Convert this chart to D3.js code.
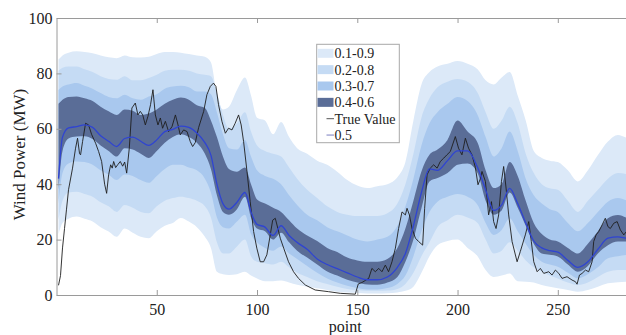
<!DOCTYPE html>
<html><head><meta charset="utf-8">
<script src="https://cdn.jsdelivr.net/npm/d3@7"></script>
<style>body{margin:0;background:#fff}svg{display:block}</style>
</head><body>
<svg id="c" width="626" height="335"></svg>
<script>
const xs = [1,3,6,10,14,18,22,26,30,34,38,42,46,50,54,58,62,66,70,74,77,80,83,86,90,94,97,100,104,108,112,116,120,125,130,135,140,145,150,155,160,165,170,174,178,182,186,190,195,200,205,210,214,218,222,226,230,234,238,242,246,250,255,260,265,270,275,280,285,288];
const q50 = [42,57,60.3,60.8,61.4,60.5,57.5,55.5,53.6,56.5, 57,55.5,54,56,59,59.8,61,60.5,58.5,55, 50.5,40,33,31,33.5,37,30,25.5,24.5,21.5, 25,21.5,19,16.5,13,11,9.5,8,6.5,5.5, 5.5,6.5,10,15,25,37,45.5,45,48.5,52, 52,46,38,30.5,32.5,38.5,33,26,19.5,17, 16,15.5,12.5,10,12,16.5,20.5,21,20.5,20.5];
const q60 = [69,70.5,71.5,71.7,71,70,68,66.3,65,67, 66.5,65,65.5,67,69,70.5,71.3,70.5,68.5,67.5, 63,57,50,45.5,44.5,46,40,34.5,33,31.5, 30,27,24,21.5,19.5,17,15.5,13.5,12.5,12, 12,13,17,24,34,44.6,50.6,52.5,56,63, 59,55,45,38.6,40,48,43,34,26,22, 20,19.3,17,15,18.5,23,27.7,28.9,27.7,27];
const q40 = [38,52,56.5,57.2,57.3,56.3,54,52,50,53, 52.5,51,49.5,52,55,57,58,57,55,51, 45.5,36,30,29,31,35.5,28,24,23,20, 22.5,19,16,13.5,11,8.5,7,5.5,4.5,3.8, 3.7,4.5,6.5,12,20,31.3,41,42.2,44,47, 47.5,44,34,29,30.5,37,31.5,25,18.5,15, 14.5,13.9,11,8.4,10.5,15,18,19.3,19.3,19];
const q70 = [74,75.3,76,76.5,75.5,74.5,72.9,71.5,71,72.3, 71,70.5,71.7,72.5,74.5,75.3,75.5,75,73.5,73.5, 72.5,66,58,53,52.5,56,50,45,43,42, 40,36,32.5,29,27,24.5,23,21.5,20,19.3, 20,21,25,32,42,54,62,66,69,71.5, 70,65,57,50,53,59,52,42,36,33, 31,30,26,23,26,30,33.7,35,34,33.5];
const q30 = [33,44,47.5,48.2,48,47,45,43.4,41.5,43.5, 43,41.5,40.5,43,45.5,47,47,46,45,42, 37,28,24.5,24,26.5,29,22,19,17,16, 17.5,15,13,10.5,8,6,4.5,3.3,2.5,2, 2,2.5,4,7,14,23,30,33.7,35.5,36.5, 35.5,32.5,26,21.7,23.5,27.7,23,18.5,14.5,12, 11,10.2,8,6,7.5,10,13.3,14,14.5,14.5];
const q80 = [81,82,82.5,82.5,81.5,80.5,79,78,77.7,79, 77.5,77.5,78.3,79.5,81,81.3,81.3,81,80,79.5, 79,73,65,60,62,66,59,54,52,51, 50,46,42,38,35,32,30,29,28.5,28.5, 28.5,29.5,33,40,51,64,71,75,77,78, 77,73,66,60,63,68,62,51,44,40, 38.5,38,34,30,34,38,42,44,43.5,43];
const q20 = [27,34,37,37.3,36.5,35.5,33.5,32,30,32.5, 31.5,30,29.5,32,34,35,35.5,35,34,32, 28,19,15,15,17.5,20,14,12,11.5,11, 12,10,8,6.5,5,4,3,2.2,1.8,1.5, 1.5,1.6,2.2,4,8,14,19,24.5,27,29, 28,26,20,15,16,19,16,12.5,10,8.4, 7,6,4.5,3.6,4.5,6.5,8.4,9,9,9];
const q90 = [85,86.5,87.5,88,87.7,87.3,86.5,85.8,85.5,86.5, 85.8,85.7,86,87,87.7,87.7,87.5,87,86.5,86, 84,72,67,68,74,78.5,72,64,63,58, 62.5,57,53,51,48.5,47,44.5,41.5,39.5,38.6, 39.3,40,42.5,48,63,76,80.5,82.5,83.5,84.5, 83.5,81.5,77.5,76,78.5,80.5,72,63,52,49.5, 48.5,48,45,41,45,50.5,55.4,57.8,56.6,56];
const q10 = [22,26,27.5,28.3,27.5,26.5,24.5,22.9,21,24, 22.5,21,20.5,23,25,26,27.8,26.5,24.5,21, 17,8.4,7.5,7.2,7.5,8.4,7,6,5,5, 5.2,4.5,3.7,3,2.4,1.8,1.2,0.9,0.7,0.5, 0.5,0.6,0.9,1.5,3,8,14,18,19.5,20, 17,14,9,6.5,7,7.8,5,4.8,4.5,3.6, 3,2.4,1.8,1.2,1.8,3,4.2,4.6,4.8,4.8];

const trueX = [1,2,3,4,5,6,8,9.5,10.5,11.5,12,13,14.5,16,17.5,19.5,21,22.5,24,25,26,27,27.8,28.5,29.5,30.5,31.8,33,34,35,36.3,37.6,39.3,40.6,41.8,43,44.3,45.6,46.9,48.1,49.3,50.6,51.8,52.9,54.3,55.9,57.6,59.3,60.6,61.7,63.4,65.1,66.7,67.9,69.2,70.9,73.4,75,76.7,78.3,79.5,80.8,82.5,84.2,85.8,87.5,89.1,90.8,92.1,93.3,95,96.6,98.3,99.9,101.6,103.3,104.9,106.6,107.8,109.1,110.4,111.6,113.3,115.7,118.2,120.7,124.1,129,135.7,141.5,149,150.5,152.3,155.7,157.3,159,160.7,162.3,164,165.6,167.3,169,170.6,172.3,174,174.8,176,177.3,179,180.6,182.6,183.6,184.8,186.4,188.1,189.8,191.4,193.1,194.7,196.4,198.9,200.5,202.2,203.9,205.5,207.2,208.9,210.2,211.4,212.2,213.9,215.5,216.9,218,219.2,220.5,221.9,223,224.2,225.5,227.2,229.7,231.3,233.8,235.5,236.8,238,239.7,241.3,243,245.5,247.1,248.8,250.5,252.1,254.6,257.1,258.8,259.6,260.8,262.1,263.8,265.4,267.1,267.9,269.1,270.4,272.1,273.7,275,276.2,277.9,279.6,281.2,282.9,284.2,286,288];
const trueY = [3.5,7,17,24,31,38,45.8,53,56.6,51,50.6,55.4,62,61.4,58,54.8,51.8,48.2,40,36.7,43.4,47,45.8,48.2,46,47,48.2,46.5,48,44,53,67.5,69.3,65,66.3,65,61.4,64.5,68.7,74.1,65,61.4,63.9,60.2,62.7,59,60.8,65,61.4,57.8,59.6,59,55.4,53.6,55,60.5,66.3,72.3,75.3,76.5,75.3,68.7,62.7,58.4,60.2,59.6,62,65,61.4,55.4,44.6,33.7,22.9,16.9,12,12,14.5,21.7,27,27.7,24,20.5,16.9,12,8.4,6,3.6,1.8,1.2,0.6,0.3,4,4.5,6,9.6,8.4,9.6,8.4,10.8,8.4,12,16.9,24,30,28.9,31.3,28.9,24,20.5,19.3,18,31.3,43.4,45.8,47,45.8,48.2,49.4,50.6,51.8,57.2,53,50.6,56.6,53,50.6,46,39.8,42,44.6,41,28.9,33.7,26.5,24,28.9,41,46.4,38.6,28.9,19.3,12,15.7,21.7,26.5,19.3,12,8.4,9.6,7.8,8.4,7.2,9,7.8,6,6.6,5.4,4.8,3.9,7.2,7.8,9,8.4,12,19.3,21.7,22.9,25.3,27.7,24.7,24,25.9,26.5,23.5,21.7,22.9,22,21];

const xTicks = [50,100,150,200,250];
const yTicks = [0,20,40,60,80,100];
const bandLabels = ["0.1-0.9","0.2-0.8","0.3-0.7","0.4-0.6"];
const bandColors = ["#dce9f8","#c5dbf4","#a9c8ee","#5a6d97"];
const lineLabels = ["True Value","0.5"];
const lineColors = ["#1e1e1e","#2f44d2"];

const svg = d3.select("#c");
const x = d3.scaleLinear().domain([0,288]).range([56.5,634]);
const y = d3.scaleLinear().domain([0,100]).range([295,18]);
const font = "'Liberation Serif', serif";

svg.append("defs").append("clipPath").attr("id","pc")
  .append("rect").attr("x",x(0)).attr("y",y(100)).attr("width",x(288)-x(0)).attr("height",y(0)-y(100));

const g = svg.append("g").attr("clip-path","url(#pc)");
const bands = [[q10,q90],[q20,q80],[q30,q70],[q40,q60]];
bands.forEach((b,k)=>{
  const area = d3.area().curve(d3.curveMonotoneX)
    .x((d,i)=>x(xs[i])).y0((d,i)=>y(b[0][i])).y1((d,i)=>y(b[1][i]));
  g.append("path").datum(xs).attr("d",area).attr("fill",bandColors[k]);
});
const tl = d3.line().x((d,i)=>x(trueX[i])).y((d,i)=>y(trueY[i]));
g.append("path").datum(trueX).attr("d",tl).attr("fill","none").attr("stroke",lineColors[0]).attr("stroke-width",0.9);
const ml = d3.line().curve(d3.curveMonotoneX).x((d,i)=>x(xs[i])).y((d,i)=>y(q50[i]));
g.append("path").datum(xs).attr("d",ml).attr("fill","none").attr("stroke",lineColors[1]).attr("stroke-width",1.3);

const axColor = "#9a9a9a";
function style(sel){
  sel.selectAll(".domain").attr("stroke",axColor);
  sel.selectAll(".tick line").attr("stroke",axColor);
  sel.selectAll("text").attr("fill","#222").style("font-family",font).style("font-size","16px");
}
svg.append("g").attr("transform",`translate(0,${y(0)})`)
  .call(d3.axisBottom(x).tickValues(xTicks).tickSize(-5).tickSizeOuter(0).tickPadding(9)).call(style);
svg.append("g").attr("transform",`translate(0,${y(100)})`)
  .call(d3.axisTop(x).tickValues(xTicks).tickSize(-5).tickSizeOuter(0).tickFormat("")).call(style);
svg.append("g").attr("transform",`translate(${x(0)},0)`)
  .call(d3.axisLeft(y).tickValues(yTicks).tickSize(-5).tickSizeOuter(0).tickPadding(4)).call(style);

svg.append("text").attr("x",(x(0)+x(288))/2).attr("y",331.5).attr("text-anchor","middle")
  .style("font-family",font).style("font-size","16px").attr("fill","#222").text("point");
svg.append("text").attr("transform",`translate(25,${(y(0)+y(100))/2-2}) rotate(-90)`).attr("text-anchor","middle")
  .style("font-family",font).style("font-size","17px").attr("fill","#222").text("Wind Power (MW)");

const lg = svg.append("g");
lg.append("rect").attr("x",316.7).attr("y",44.3).attr("width",82.6).attr("height",98.4)
  .attr("fill","#fff").attr("stroke","#a8a8a8").attr("stroke-width",1);
const rowH = 16.35, row0 = 53.3;
bandLabels.forEach((t,i)=>{
  const cy = row0 + i*rowH;
  lg.append("rect").attr("x",317.5).attr("y",cy-4.5).attr("width",16).attr("height",9).attr("fill",bandColors[i]);
  lg.append("text").attr("x",334.5).attr("y",cy).attr("dy","0.35em").style("font-family",font).style("font-size","14px").attr("fill","#222").text(t);
});
lineLabels.forEach((t,j)=>{
  const cy = row0 + (4+j)*rowH;
  lg.append("line").attr("x1",326.5).attr("x2",334).attr("y1",cy).attr("y2",cy).attr("stroke",j===0?"#555":"#7a7fc0").attr("stroke-width",1);
  lg.append("text").attr("x",334.5).attr("y",cy).attr("dy","0.35em").style("font-family",font).style("font-size","14px").attr("fill","#222").text(t);
});
</script>
</body></html>
